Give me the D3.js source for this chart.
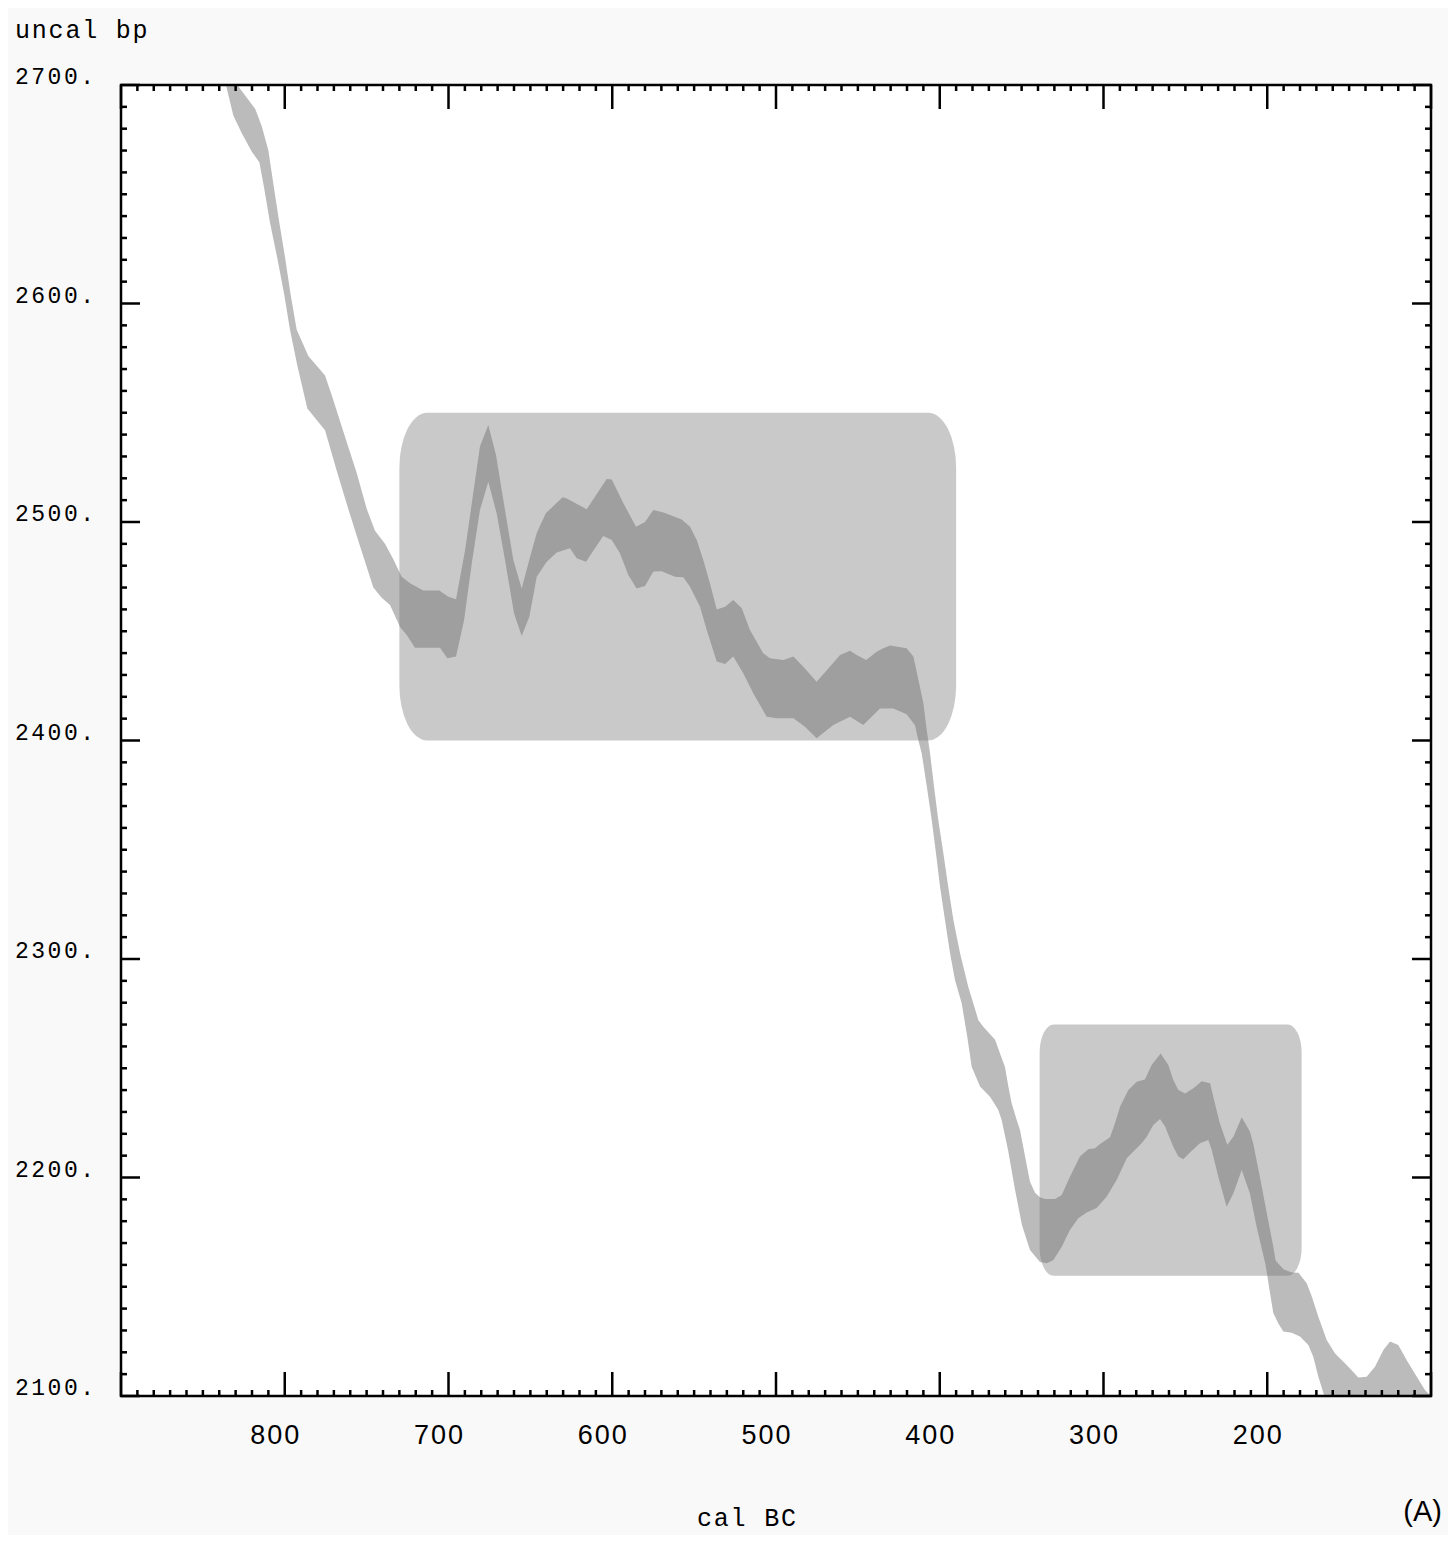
<!DOCTYPE html>
<html>
<head>
<meta charset="utf-8">
<script src="https://cdn.jsdelivr.net/npm/d3@7"></script>
<style>
  body { margin: 0; background: #ffffff; }
  svg { display: block; }
</style>
</head>
<body>
<div id="chart"></div>
<script>
// band of the calibration curve: [cal BC, uncal bp]
var upperEdge = [
  [836, 2715], [829, 2700], [818, 2689], [814, 2681], [810, 2670], [806.6, 2653],
  [803.3, 2637], [799.8, 2621], [796.4, 2604], [792.7, 2588], [785.6, 2576],
  [775.4, 2567], [771.3, 2558], [763.2, 2539], [756.1, 2522.5], [749.9, 2506],
  [744.9, 2496], [738.8, 2490], [733.7, 2483], [728.6, 2475], [723.5, 2472],
  [715.4, 2468.6], [705.6, 2468.6], [700.1, 2465.8], [695.4, 2464.6], [689.9, 2487],
  [680.8, 2534.5], [675.7, 2544.4], [671, 2530.7], [665.5, 2505.5], [660.4, 2482.6],
  [655.3, 2469.6], [650.2, 2484], [646.1, 2495], [640.6, 2504], [630.3, 2511.3],
  [627.8, 2510.8], [615.6, 2505.8], [603.4, 2519.7], [600.3, 2519.5], [593.2, 2508.6],
  [585.5, 2497.8], [580, 2500], [574.9, 2505.5], [568.8, 2504.3], [564.7, 2503.2],
  [557.6, 2501.2], [552.5, 2497.8], [548.4, 2491.8], [544.4, 2482.6], [540.3, 2471.9],
  [536.2, 2460], [531.1, 2461.2], [526.1, 2464.3], [520.9, 2460.5], [515.9, 2450.6],
  [507.8, 2439.9], [503.7, 2437.6], [495.5, 2436.8], [489.4, 2438.4], [483.3, 2433.8],
  [475.2, 2426.9], [467.1, 2433.8], [460.9, 2439.1], [454.8, 2441.1], [450.7, 2439.1],
  [445, 2436.8], [438.5, 2440.6], [434.5, 2442.2], [430.4, 2443.5], [420.2, 2442.2],
  [416.1, 2438.4], [413.1, 2428], [410, 2417], [408, 2405], [405.9, 2394],
  [403.5, 2379], [400.9, 2363.6], [397.8, 2348.4], [394.8, 2333], [391.7, 2318],
  [387.6, 2302.6], [382.6, 2287.3], [376.4, 2272], [373.4, 2269], [366.2, 2263],
  [363.2, 2256.8], [360.2, 2250.7], [358.1, 2241.6], [356.1, 2234], [353, 2226.3],
  [351, 2221.7], [344.9, 2198], [341.8, 2193], [338.8, 2191], [335.7, 2190.2],
  [329.6, 2190.2], [325.5, 2192], [320.5, 2200.4], [314.4, 2209.6], [309.3, 2212.9],
  [305.2, 2213.4], [302.1, 2215.3], [296, 2218.4], [293, 2224.8], [289.9, 2232.4],
  [284.8, 2240], [279.7, 2243.8], [274.7, 2244.9], [270.6, 2251.5], [265.1, 2256.8],
  [260.4, 2251.5], [257.4, 2244.6], [254.3, 2240], [250.2, 2238.5], [245.1, 2240.8],
  [240, 2244], [234.9, 2243.1], [232, 2234], [229, 2225], [224.4, 2215],
  [220.7, 2218.7], [215.6, 2227.6], [210.6, 2221], [208.6, 2215.7], [204.5, 2200.4],
  [200.3, 2183.7], [196.3, 2168.3], [194.9, 2162], [190.1, 2158], [185, 2156.5],
  [180.9, 2156.4], [175.9, 2151.6], [172.8, 2145.5], [168.8, 2136.3], [163.7, 2125.6],
  [158.6, 2119.5], [151.5, 2114.2], [144.4, 2108.5], [139.3, 2108.8], [134.2, 2113.4],
  [129.1, 2121], [125, 2125], [120, 2123.3], [114.8, 2116.4], [108.7, 2108.8],
  [103.7, 2102.7], [98.6, 2099], [90, 2090]
];

var lowerEdge = [
  [845, 2715], [835.9, 2700], [831.4, 2686], [826.3, 2678], [820.2, 2669.6], [815.5, 2664.7],
  [812.7, 2653.3], [809, 2637], [804.5, 2620.6], [800.3, 2604], [796.8, 2588],
  [792.3, 2571.5], [786.2, 2552], [775.4, 2542], [767.9, 2522.5], [761.2, 2506],
  [754.5, 2490], [745.9, 2470], [740.8, 2465.3], [735.7, 2462], [729.6, 2452],
  [725.5, 2448.3], [720.5, 2442.5], [705.2, 2442.5], [700.7, 2437.6], [695.4, 2438.4],
  [690.5, 2455], [685.8, 2481], [680.8, 2505.5], [675.7, 2518.4], [670.6, 2504],
  [665.5, 2482.6], [660, 2458.2], [655.3, 2447.8], [650.6, 2456.7], [646.1, 2475],
  [640, 2481.8], [633.9, 2486], [625.8, 2488], [621.7, 2483.4], [616, 2481.8],
  [612.6, 2485.7], [605.5, 2493.6], [600.3, 2491.8], [595.3, 2485.7], [590.2, 2475.7],
  [585.1, 2469.6], [580, 2470.7], [574.9, 2477.3], [569.8, 2477.5], [561.7, 2475],
  [556.6, 2474.7], [552.5, 2470.4], [546.4, 2461.2], [542.3, 2450.6], [536.2, 2436.1],
  [531.1, 2435], [526.1, 2438.4], [520, 2430.8], [513.9, 2421.6], [505.7, 2410.9],
  [499.6, 2410.2], [489.4, 2410.2], [482.3, 2406.3], [475.2, 2401], [465, 2407.1],
  [454.8, 2410.9], [446.7, 2407.1], [436.5, 2414.7], [428.3, 2414.7], [420.2, 2412],
  [415.1, 2407], [413.1, 2400.2], [411, 2394], [407.9, 2379], [404.9, 2363.6],
  [402.3, 2348.4], [399.8, 2333], [396.8, 2317.8], [393.7, 2302.6], [390.7, 2290.4],
  [386.6, 2279.7], [383.2, 2264.4], [380.5, 2250.7], [375.4, 2241.6], [369.3, 2237],
  [364.3, 2231], [362.2, 2226.3], [358.3, 2212.6], [354, 2194.3], [349.8, 2178.3],
  [344.9, 2166.8], [338.8, 2161.3], [334.7, 2160.7], [330.7, 2162.1], [325.5, 2168.3],
  [320.5, 2176], [315.4, 2181.3], [310.3, 2184], [304.2, 2186], [298.1, 2191.2],
  [291.9, 2199], [285.8, 2208.8], [280.8, 2212.6], [276.7, 2215.7], [273.6, 2218.7],
  [269.6, 2224], [265.5, 2226.8], [262.4, 2223.3], [257.4, 2214.1], [254.3, 2209.6],
  [251.3, 2208.3], [247.2, 2211.4], [241.1, 2215.7], [236, 2217.2], [233.9, 2212.6],
  [229.9, 2200.4], [224.8, 2186.6], [220.7, 2192.7], [215.6, 2203.4], [210.6, 2192.7],
  [206.5, 2177.5], [201, 2160], [198.3, 2147], [196.3, 2138], [193.3, 2133.3],
  [190.2, 2129.5], [185.1, 2129], [180, 2127.2], [174.9, 2123.3], [171.9, 2118],
  [168.8, 2108.8], [165.6, 2101.1], [163.7, 2096.5], [160, 2085], [90, 2085]
];

// shaded ranges
var boxBC = [[730, 390], [339, 179]];
var boxBP = [[2400, 2550], [2155, 2270]];

var xTickLabels = [800, 700, 600, 500, 400, 300, 200];
var yTickLabels = [2700, 2600, 2500, 2400, 2300, 2200, 2100];

var width = 1456,
    height = 1542,
    plot = {left: 121, right: 1431, top: 85, bottom: 1396};

var x = d3.scaleLinear().domain([900, 100]).range([plot.left, plot.right]);
var y = d3.scaleLinear().domain([2100, 2700]).range([plot.bottom, plot.top]);

var svg = d3.select("#chart").append("svg")
  .attr("width", width)
  .attr("height", height);

// fondo
svg.append("rect")
  .attr("x", 8).attr("y", 8)
  .attr("width", 1440).attr("height", 1527)
  .style("fill", "#f9f9f9");

svg.append("rect")
  .attr("x", plot.left).attr("y", plot.top)
  .attr("width", plot.right - plot.left).attr("height", plot.bottom - plot.top)
  .style("fill", "#ffffff");

svg.append("clipPath").attr("id", "clip")
  .append("rect")
  .attr("x", plot.left).attr("y", plot.top)
  .attr("width", plot.right - plot.left).attr("height", plot.bottom - plot.top);

var g = svg.append("g").attr("clip-path", "url(#clip)");

var outline = d3.line()
  .x(function(d) { return x(d[0]); })
  .y(function(d) { return y(d[1]); });

g.append("path")
  .datum(upperEdge.concat(lowerEdge.slice().reverse()))
  .attr("d", function(d) { return outline(d) + "Z"; })
  .style("fill", "#bbbbbb")
  .style("stroke", "none");

g.selectAll("rect.box")
  .data(boxBC)
  .enter()
  .append("rect")
  .attr("class", "box")
  .attr("x", function(d) { return x(d[0]); })
  .attr("width", function(d) { return x(d[1]) - x(d[0]); })
  .attr("y", function(d, i) { return y(boxBP[i][1]); })
  .attr("height", function(d, i) { return y(boxBP[i][0]) - y(boxBP[i][1]); })
  .attr("rx", function(d, i) { return i === 0 ? 28 : 14; })
  .attr("ry", function(d, i) { return i === 0 ? 55 : 28; })
  .style("fill", "#727272")
  .style("fill-opacity", 0.382);

// ticks on all four sides, pointing inwards
var xTicks = d3.range(100, 901, 10),
    yTicks = d3.range(2100, 2701, 10);

var ticks = svg.append("g").style("stroke", "#000").style("stroke-width", 2.5);

ticks.selectAll("line.xb")
  .data(xTicks).enter().append("line")
  .attr("x1", function(d) { return x(d); }).attr("x2", function(d) { return x(d); })
  .attr("y1", plot.bottom)
  .attr("y2", function(d) { return plot.bottom - (d % 100 === 0 ? 24 : 6); });

ticks.selectAll("line.xt")
  .data(xTicks).enter().append("line")
  .attr("x1", function(d) { return x(d); }).attr("x2", function(d) { return x(d); })
  .attr("y1", plot.top)
  .attr("y2", function(d) { return plot.top + (d % 100 === 0 ? 24 : 6); });

ticks.selectAll("line.yl")
  .data(yTicks).enter().append("line")
  .attr("y1", function(d) { return y(d); }).attr("y2", function(d) { return y(d); })
  .attr("x1", plot.left)
  .attr("x2", function(d) { return plot.left + (d % 100 === 0 ? 19 : 6); });

ticks.selectAll("line.yr")
  .data(yTicks).enter().append("line")
  .attr("y1", function(d) { return y(d); }).attr("y2", function(d) { return y(d); })
  .attr("x1", plot.right)
  .attr("x2", function(d) { return plot.right - (d % 100 === 0 ? 19 : 6); });

// marco
svg.append("rect")
  .attr("x", plot.left).attr("y", plot.top)
  .attr("width", plot.right - plot.left).attr("height", plot.bottom - plot.top)
  .style("fill", "none")
  .style("stroke", "#000")
  .style("stroke-width", 2.5);

// etiquetas
svg.selectAll("text.xl")
  .data(xTickLabels).enter().append("text")
  .attr("x", function(d) { return x(d) - 9; })
  .attr("y", 1444)
  .style("text-anchor", "middle")
  .style("font", "27px 'Liberation Sans'")
  .style("letter-spacing", "2px")
  .text(function(d) { return d; });

svg.selectAll("text.yl")
  .data(yTickLabels).enter().append("text")
  .attr("x", 15)
  .attr("y", function(d) { return y(d) - 1; })
  .style("font", "23px 'Liberation Mono'")
  .style("letter-spacing", "2.5px")
  .text(function(d) { return d + "."; });

svg.append("text")
  .attr("x", 15).attr("y", 38)
  .style("font", "25px 'Liberation Mono'")
  .style("letter-spacing", "1.8px")
  .text("uncal bp");

svg.append("text")
  .attr("x", 697).attr("y", 1526)
  .style("font", "25px 'Liberation Mono'")
  .style("letter-spacing", "1.8px")
  .text("cal BC");

svg.append("text")
  .attr("x", 1442).attr("y", 1521)
  .style("text-anchor", "end")
  .style("font", "29px 'Liberation Sans'")
  .text("(A)");
</script>
</body>
</html>
